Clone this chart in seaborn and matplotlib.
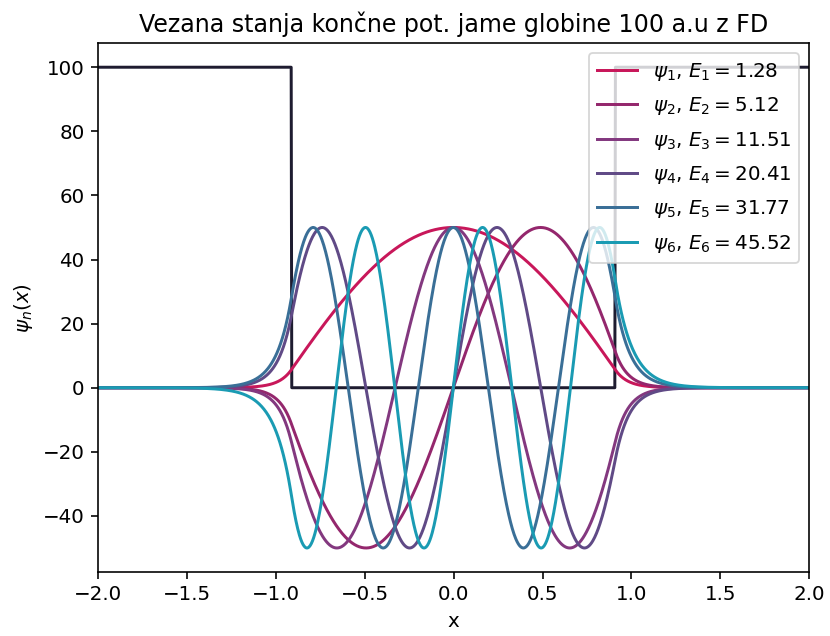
import numpy as np
import pandas as pd
import matplotlib
matplotlib.use("Agg")
import matplotlib.pyplot as plt
import seaborn as sns

# ---- data ----
title = "Vezana stanja končne pot. jame globine 100 a.u z FD"
well_depth = 100.0          # potential outside the well (a.u.)
well_half_width = 0.91      # well spans [-0.91, 0.91]
x_range = (-2.0, 2.0)
energies = [1.28, 5.12, 11.51, 20.41, 31.77, 45.52]
state_numbers = [1, 2, 3, 4, 5, 6]
left_lobe_signs = [1, -1, -1, 1, 1, -1]              # sign of leftmost lobe
amplitude = 50.0
colors = ["#c8175a", "#94276d", "#83387f", "#604a86", "#3a6f97", "#1a9bb3"]
potential_color = "#1e1c30"

plt.rcParams["font.size"] = 11
plt.rcParams["font.family"] = ["DejaVu Sans"]

# ---- finite-difference eigen-solution (as in the original "FD") ----
N = 1201
x = np.linspace(x_range[0], x_range[1], N)
h = x[1] - x[0]
V = np.where(np.abs(x) <= well_half_width, 0.0, well_depth)
H = (np.diag(1.0 / h**2 + V) +
     np.diag(-0.5 / h**2 * np.ones(N - 1), 1) +
     np.diag(-0.5 / h**2 * np.ones(N - 1), -1))
evals, evecs = np.linalg.eigh(H)

rows = []
for i, n in enumerate(state_numbers):
    psi = evecs[:, n - 1]
    psi = psi / np.max(np.abs(psi)) * amplitude
    probe = psi[np.argmin(np.abs(x - (-0.86)))]
    if np.sign(probe) != left_lobe_signs[i]:
        psi = -psi
    label = rf"$\psi_{{{n}}}$, $E_{{{n}}} = {energies[i]:.2f}$"
    rows.append(pd.DataFrame({"x": x, "psi": psi, "state": label}))
df = pd.concat(rows, ignore_index=True)
labels = df["state"].unique().tolist()

fig = plt.figure(figsize=(830 / 130, 636 / 130), dpi=130)
ax = fig.add_axes([0.118, 0.1006, 0.857, 0.8315])

sns.lineplot(x=x, y=V, color=potential_color, ax=ax, linewidth=1.65)
sns.lineplot(data=df, x="x", y="psi", hue="state", hue_order=labels,
             palette=colors, ax=ax, linewidth=1.65, sort=False)

ax.set_xlim(*x_range)
ax.set_title(title, fontsize=13.2)
ax.set_xlabel("x", fontsize=11)
ax.set_ylabel(r"$\psi_n(x)$", fontsize=11)
ax.tick_params(labelsize=11, length=3.9, width=0.9)
for s in ax.spines.values():
    s.set_linewidth(0.9)
leg = ax.legend(loc="upper right", fontsize=11, labelspacing=0.62)
leg.set_title(None)

fig.savefig("out.png", dpi=130)
